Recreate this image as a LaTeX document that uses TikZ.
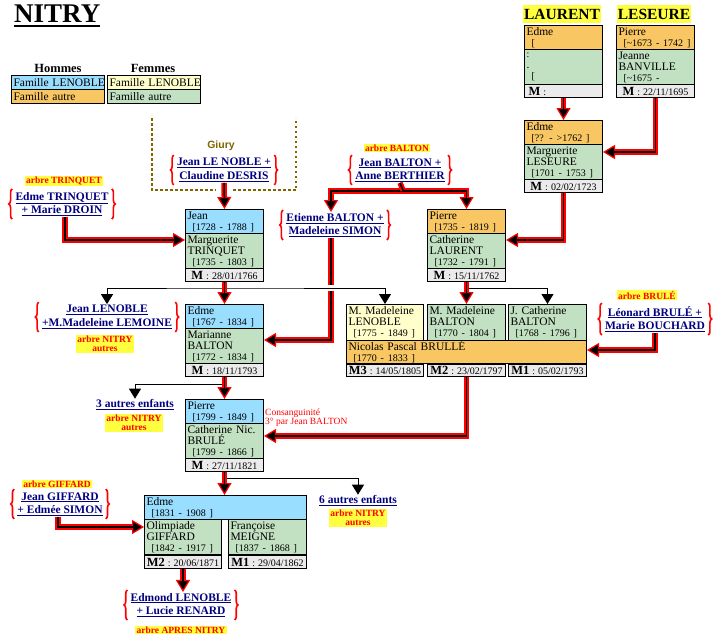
\documentclass[tikz,border=0pt]{standalone}
\usepackage{fontspec}
\setmainfont{Liberation Serif}
\newfontfamily\sansfam{Liberation Sans}
\usetikzlibrary{arrows.meta,decorations.pathreplacing}

\definecolor{cHomme}{HTML}{99DDFF}
\definecolor{cAutre}{HTML}{F8C663}
\definecolor{cFemme}{HTML}{C2E0C2}
\definecolor{cFemmeN}{HTML}{FFFFCC}
\definecolor{cMariage}{HTML}{EBEBEB}
\definecolor{cLien}{HTML}{000080}
\definecolor{cArbre}{HTML}{FFFF40}
\definecolor{cGiury}{HTML}{806600}

\newcommand\annees[1]{{\fontsize{10}{11}\selectfont\hspace*{5pt}[#1 ]}}
\newcommand\datemar[2]{{\bfseries\fontsize{12.5}{11}\selectfont #1}{\fontsize{10}{11}\selectfont\hspace{3pt}:\hspace{3pt}#2}}

\begin{document}
\begin{tikzpicture}[x=1pt,y=-1pt,
  fiche/.style={draw, line width=1pt, anchor=north west, inner xsep=2pt, inner ysep=0pt, text width=74pt, align=left, font=\fontsize{11.5}{11}\selectfont},
  homme/.style={fiche, fill=cHomme, minimum height=24pt},
  autre/.style={fiche, fill=cAutre, minimum height=24pt},
  femme/.style={fiche, fill=cFemme, minimum height=35pt},
  femmeN/.style={fiche, fill=cFemmeN, minimum height=35pt},
  mariage/.style={fiche, fill=cMariage, minimum height=13pt, align=center},
  legende/.style={fiche, text width=89pt, minimum height=14pt, font=\fontsize{11.5}{11}\selectfont},
  renvoi/.style={text=cLien, font=\bfseries\fontsize{11.5}{13.5}\selectfont, align=center, inner sep=1pt},
  arbre/.style={fill=cArbre, text=red, font=\bfseries\fontsize{9.5}{9}\selectfont, align=center, inner xsep=1.5pt, inner ysep=0.8pt},
  accolade/.style={draw=red, line width=1.6pt, decorate, decoration={brace, amplitude=3.5pt}},
  coeur/.style={draw=black, line width=1.5pt, -},
  trait/.style={draw=red, line width=5.5pt, line join=miter, postaction={coeur}},
  filiation/.style={draw=red, line width=5.5pt, line join=miter, ->, >={Triangle[length=12pt,width=14pt,line width=1.2pt,fill=black]}, postaction={coeur, shorten >=11pt}},
  filiation2/.style={draw=red, line width=5.5pt, line join=miter, <->, >={Triangle[length=12pt,width=14pt,line width=1.2pt,fill=black]}, postaction={coeur, shorten >=11pt, shorten <=11pt}},
  fratrie/.style={draw, line width=1pt, >={Triangle[length=10pt,width=12pt]}},
  cadre/.style={draw=cGiury, line width=2.5pt, dash pattern=on 2.5pt off 2.5pt},
]
\path[use as bounding box, fill=white] (0,0) rectangle (720,640);

% titre et legende
\node[anchor=base west, inner sep=0, font=\bfseries\fontsize{27}{27}\selectfont] (titre) at (14,22) {NITRY};
\draw[line width=2.5pt] ([yshift=-4pt]titre.base west) -- ([yshift=-4pt]titre.base east);
\node[font=\bfseries\fontsize{12.5}{12}\selectfont] (hommes) at (58,68) {Hommes};
\node[font=\bfseries\fontsize{12.5}{12}\selectfont] (femmes) at (153,68) {Femmes};
\node[legende, fill=cHomme] (legH1) at (11,75) {\mbox{Famille LENOBLE}};
\node[legende, fill=cAutre] (legH2) at (11,89) {\mbox{Famille autre}};
\node[legende, fill=cFemmeN] (legF1) at (107,75) {\mbox{Famille LENOBLE}};
\node[legende, fill=cFemme] (legF2) at (107,89) {\mbox{Famille autre}};

% LAURENT - LESEURE
\node[fill=cArbre, inner xsep=1pt, minimum height=14pt, font=\bfseries\fontsize{15.5}{15}\selectfont] (laurent) at (562,14) {LAURENT};
\node[fill=cArbre, inner xsep=1pt, minimum height=14pt, font=\bfseries\fontsize{15.5}{15}\selectfont] (leseure) at (654,14) {LESEURE};
\node[autre] (edmeA) at (524,25) {Edme\\{\fontsize{10}{11}\selectfont\hspace*{5pt}[}};
\node[femme] (laurentF) at (524,49) {{\fontsize{10}{11}\selectfont :}\\.\\{\fontsize{10}{11}\selectfont\hspace*{5pt}[}};
\node[mariage, align=left] (laurentM) at (524,84) {\hspace*{2pt}\datemar{M}{}};
\node[autre] (pierreA) at (616,25) {Pierre\\\annees{\textasciitilde1673 - 1742}};
\node[femme] (jeanne) at (616,49) {Jeanne\\BANVILLE\\{\fontsize{10}{11}\selectfont\hspace*{5pt}[\textasciitilde1675 -}};
\node[mariage] (leseureM) at (616,84) {\datemar{M}{22/11/1695}};

\node[autre] (edmeB) at (524,120) {Edme\\\annees{?? - >1762}};
\node[femme] (margL) at (524,144) {Marguerite\\LESEURE\\\annees{1701 - 1753}};
\node[mariage] (margLM) at (524,179) {\datemar{M}{02/02/1723}};

\node[autre] (pierreB) at (427,209) {Pierre\\\annees{1735 - 1819}};
\node[femme] (cathL) at (427,233) {Catherine\\LAURENT\\\annees{1732 - 1791}};
\node[mariage] (cathLM) at (427,268) {\datemar{M}{15/11/1762}};

% LENOBLE
\node[homme] (jeanA) at (185,209) {Jean\\\annees{1728 - 1788}};
\node[femme] (margT) at (185,233) {Marguerite\\TRINQUET\\\annees{1735 - 1803}};
\node[mariage] (margTM) at (185,268) {\datemar{M}{28/01/1766}};

\node[homme] (edmeC) at (185,304) {Edme\\\annees{1767 - 1834}};
\node[femme] (marianne) at (185,328) {Marianne\\BALTON\\\annees{1772 - 1834}};
\node[mariage] (marianneM) at (185,363) {\datemar{M}{18/11/1793}};

\node[homme] (pierreC) at (185,399) {Pierre\\\annees{1799 - 1849}};
\node[femme] (cathB) at (185,423) {Catherine Nic.\\BRULÉ\\\annees{1799 - 1866}};
\node[mariage] (cathBM) at (185,458) {\datemar{M}{27/11/1821}};

\node[homme, text width=158pt] (edmeD) at (144,495) {Edme\\\annees{1831 - 1908}};
\node[femme, text width=73pt] (olimpiade) at (144,519) {Olimpiade\\GIFFARD\\\annees{1842 - 1917}};
\node[femme] (francoise) at (228,519) {Françoise\\MEIGNE\\\annees{1837 - 1868}};
\node[mariage, text width=73pt] (olimpiadeM) at (144,555) {\datemar{M2}{20/06/1871}};
\node[mariage] (francoiseM) at (228,555) {\datemar{M1}{29/04/1862}};

% BRULLE
\node[femmeN, text width=73pt, minimum height=36pt] (mmLen) at (346,304) {M. Madeleine\\LENOBLE\\\annees{1775 - 1849}};
\node[femme, minimum height=36pt] (mmBal) at (427,304) {M. Madeleine\\BALTON\\\annees{1770 - 1804}};
\node[femme, minimum height=36pt] (jcBal) at (508,304) {J. Catherine\\BALTON\\\annees{1768 - 1796}};
\node[autre, text width=236pt, minimum height=23pt] (nicolas) at (346,340) {Nicolas Pascal BRULLÉ\\\annees{1770 - 1833}};
\node[mariage, text width=73pt, minimum height=12pt] (nicM3) at (346,364) {\datemar{M3}{14/05/1805}};
\node[mariage, minimum height=12pt] (nicM2) at (427,364) {\datemar{M2}{23/02/1797}};
\node[mariage, minimum height=12pt] (nicM1) at (508,364) {\datemar{M1}{05/02/1793}};

% renvois
\node[renvoi] (trinquet) at (62,204) {\underline{Edme TRINQUET}\\\underline{+ Marie DROIN}};
\node[renvoi] (lenobleA) at (224,170) {\underline{Jean LE NOBLE +}\\\underline{Claudine DESRIS}};
\node[renvoi] (balton) at (400,170) {\underline{Jean BALTON +}\\\underline{Anne BERTHIER}};
\node[renvoi] (etienne) at (335,225) {\underline{Etienne BALTON +}\\\underline{Madeleine SIMON}};
\node[renvoi] (lenobleB) at (107,317) {\underline{Jean LENOBLE}\\\underline{+M.Madeleine LEMOINE}};
\node[renvoi] (leonard) at (655,319) {\underline{Léonard BRULÉ +}\\\underline{Marie BOUCHARD}};
\node[renvoi] (autres3) at (135,405) {\underline{3 autres enfants}};
\node[renvoi] (autres6) at (358,501) {\underline{6 autres enfants}};
\node[renvoi] (giffard) at (60,504) {\underline{Jean GIFFARD}\\\underline{+ Edmée SIMON}};
\node[renvoi] (edmond) at (181,605) {\underline{Edmond LENOBLE}\\\underline{+ Lucie RENARD}};
\foreach \n in {trinquet,lenobleA,balton,etienne,lenobleB,leonard,giffard,edmond} {
  \draw[accolade] ([shift={(-2pt,-2pt)}]\n.south west) -- ([shift={(-2pt,2pt)}]\n.north west);
  \draw[accolade] ([shift={(2pt,2pt)}]\n.north east) -- ([shift={(2pt,-2pt)}]\n.south east);
}

\node[arbre] (arbTrinquet) at (64,181) {arbre TRINQUET};
\node[arbre] (arbBalton) at (397,148) {arbre BALTON};
\node[arbre] (arbBrule) at (647,295) {arbre BRULÉ};
\node[arbre] (arbNitryA) at (105,344) {arbre NITRY\\autres};
\node[arbre] (arbNitryB) at (134,423) {arbre NITRY\\autres};
\node[arbre] (arbNitryC) at (358,518) {arbre NITRY\\autres};
\node[arbre] (arbGiffard) at (57,484) {arbre GIFFARD};
\node[arbre] (arbApres) at (181,630) {arbre APRES NITRY};

% Giury
\node[text=cGiury, font=\sansfam\bfseries\fontsize{10.5}{10}\selectfont] (giury) at (221,146) {Giury};
\draw[cadre] (152,118) -- (152,190) -- (216,190);
\draw[cadre] (233,190) -- (296,190) -- (296,118);

\node[anchor=north west, inner sep=0, text=red, align=left, font=\fontsize{9.5}{9}\selectfont] (consang) at (265,409) {Consanguinité\\3° par Jean BALTON};

% filiations
\draw[filiation] (laurentM.south) -- (edmeB.north);
\draw[filiation] (leseureM.south) |- ([yshift=-8pt]margL.north east);
\draw[filiation] (margLM.south) |- ([yshift=-7pt]cathL.north east);
\draw[filiation] (lenobleA.south) -- (jeanA.north);
\draw[filiation] ([xshift=3pt]trinquet.south) |- ([yshift=-7pt]margT.north west);
\coordinate (barre) at (403,191);
\draw[filiation2] ([xshift=-4pt]etienne.north) |- (barre) -| (pierreB.north);
\draw[trait] (balton.south) -- ([yshift=0.75pt]barre);
\draw[filiation] ([xshift=-4pt]etienne.south) |- ([yshift=-12pt]marianne.north east);
\draw[filiation] (leonard.south) |- ([yshift=-10pt]nicolas.north east);
\draw[filiation] (nicM2.south) |- ([yshift=-13pt]cathB.north east);
\draw[filiation] ([xshift=-2pt]giffard.south) |- ([yshift=-8pt]olimpiade.north west);

% freres et soeurs
\draw[fratrie, <->, preaction={draw=white, line width=6pt, -}] (lenobleB.north) |- ([yshift=-6pt]margTM.south) -| (mmLen.north);
\draw[fratrie, ->] ([yshift=-6pt]cathLM.south) -| (jcBal.north);
\draw[fratrie, ->] ([yshift=-7pt]marianneM.south) -| (autres3.north);
\draw[fratrie, ->] ([yshift=-6pt]cathBM.south) -| (autres6.north);

\draw[filiation] (margTM.south) -- (edmeC.north);
\draw[filiation] (cathLM.south) -- (mmBal.north);
\draw[filiation] (marianneM.south) -- (pierreC.north);
\draw[filiation] (cathBM.south) -- (cathBM.south |- edmeD.north);
\draw[filiation] (olimpiadeM.south) -- (olimpiadeM.south |- edmond.north);
\end{tikzpicture}
\end{document}
